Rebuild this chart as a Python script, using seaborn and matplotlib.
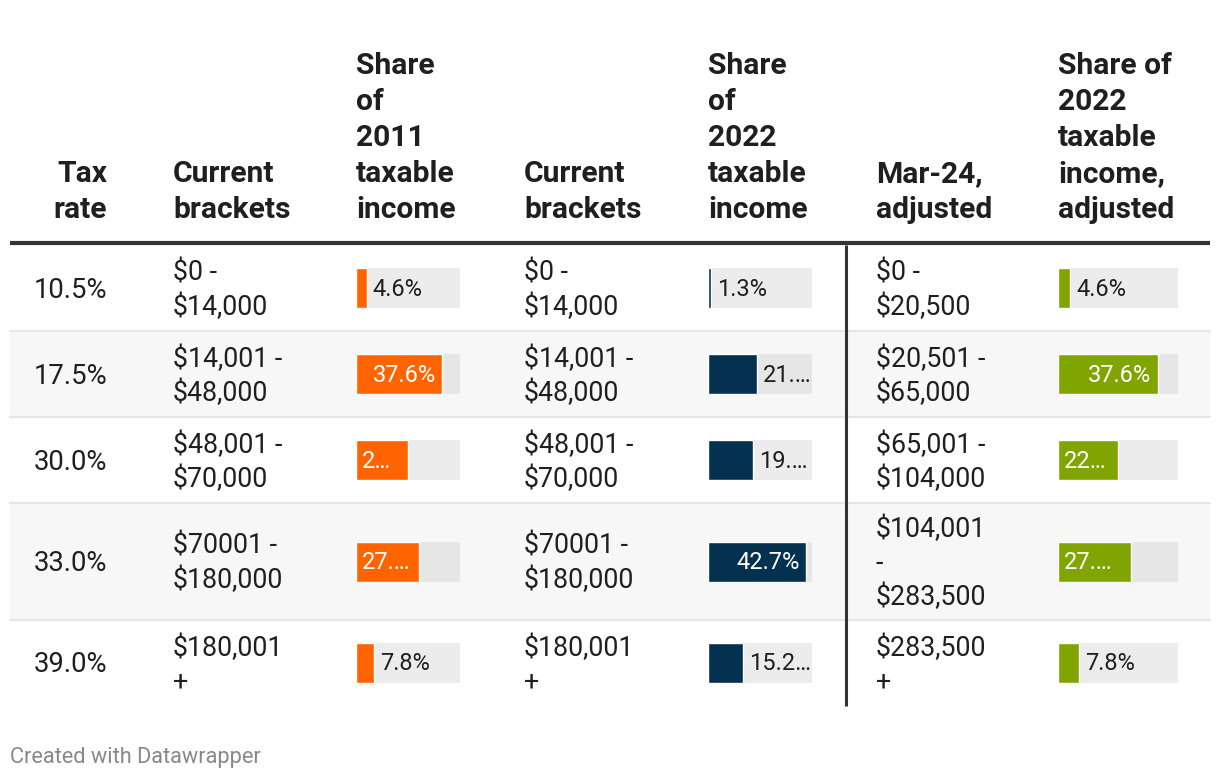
import seaborn as sns
import matplotlib.pyplot as plt

# Table data
tax_rates = ["10.5%", "17.5%", "30.0%", "33.0%", "39.0%"]
current_brackets = ["$0 -\n$14,000", "$14,001 -\n$48,000", "$48,001 -\n$70,000",
                    "$70001 -\n$180,000", "$180,001\n+"]
adjusted_brackets = ["$0 -\n$20,500", "$20,501 -\n$65,000", "$65,001 -\n$104,000",
                     "$104,001\n-\n$283,500", "$283,500\n+"]
share_2011 = [4.6, 37.6, 22.6, 27.4, 7.8]
share_2022 = [1.3, 21.3, 19.5, 42.7, 15.2]
share_2022_adj = [4.6, 37.6, 22.6, 27.4, 7.8]
# labels as they are displayed (cut off where they do not fit)
labels_2011 = ["4.6%", "37.6%", "2…", "27.…", "7.8%"]
labels_2022 = ["1.3%", "21.…", "19.…", "42.7%", "15.2…"]
labels_2022_adj = ["4.6%", "37.6%", "22…", "27.…", "7.8%"]

headers = ["Tax\nrate", "Current\nbrackets", "Share\nof\n2011\ntaxable\nincome",
           "Current\nbrackets", "Share\nof\n2022\ntaxable\nincome",
           "Mar-24,\nadjusted", "Share of\n2022\ntaxable\nincome,\nadjusted"]

sns.set_theme(style="white")
plt.rcParams["font.family"] = ["Roboto", "DejaVu Sans"]
plt.rcParams["text.parse_math"] = False

W, H = 1220, 782
fig = plt.figure(figsize=(W / 100, H / 100), dpi=100)
base = fig.add_axes([0, 0, 1, 1])
base.set_xlim(0, W)
base.set_ylim(H, 0)
base.axis("off")

TXT = "#1f1f1f"
col_x = [107, 173, 356, 524, 708, 876, 1058]
col_ha = ["right", "left", "left", "left", "left", "left", "left"]
dy = 2  # small nudge for text baseline

# header
head_lh = 36
for x, ha, h in zip(col_x, col_ha, headers):
    lines = h.split("\n")
    for i, ln in enumerate(lines):
        y = 208 + dy - (len(lines) - 1 - i) * head_lh
        base.text(x, y, ln, ha=ha, va="center", fontsize=21.6,
                  fontweight="bold", color=TXT)

base.plot([10, 1210], [243, 243], color="#333333", lw=3, solid_capstyle="butt")

# rows
body_lh = 34
n_lines = [max(a.count("\n"), b.count("\n")) + 1
           for a, b in zip(current_brackets, adjusted_brackets)]
tops = []
y = 245
for n in n_lines:
    tops.append(y)
    y += 86 + 31 * (n - 2)
tops.append(y)

bar_cols = [(356, 104, share_2011, labels_2011, "#ff6400"),
            (708, 104, share_2022, labels_2022, "#03314f"),
            (1058, 120, share_2022_adj, labels_2022_adj, "#80a500")]
vmax = 45.3

for r in range(len(tax_rates)):
    top, bot = tops[r], tops[r + 1]
    cy = (top + bot) / 2
    striped = r % 2 == 1
    if striped:
        base.fill_between([10, 1210], top, bot, color="#f7f7f7", lw=0, zorder=0)
    if r > 0:
        base.plot([10, 1210], [top, top], color="#e6e6e6", lw=1.6, zorder=1)

    base.text(col_x[0], cy + dy, tax_rates[r], ha="right", va="center",
              fontsize=19.8, color=TXT)
    for x, cell in [(col_x[1], current_brackets[r]), (col_x[3], current_brackets[r]),
                    (col_x[5], adjusted_brackets[r])]:
        lines = cell.split("\n")
        for i, ln in enumerate(lines):
            yy = cy + dy + (i - (len(lines) - 1) / 2) * body_lh
            base.text(x, yy, ln, ha="left", va="center", fontsize=19.3, color=TXT)

    for x0, w, vals, labs, color in bar_cols:
        ax = fig.add_axes([x0 / W, 1 - (cy + 20) / H, w / W, 40 / H])
        ax.set_facecolor("#e6e6e6" if striped else "#ececec")
        sns.barplot(x=[vals[r]], y=["v"], orient="h", color=color,
                    saturation=1, width=1, ax=ax)
        ax.set_xlim(0, vmax)
        ax.set_ylim(0.5, -0.5)
        ax.set_xticks([])
        ax.set_yticks([])
        ax.set_xlabel("")
        ax.set_ylabel("")
        for s in ax.spines.values():
            s.set_visible(False)
        v = vals[r]
        if v > 35:
            ax.annotate(labs[r], (v, 0), xytext=(-6, -1), textcoords="offset pixels",
                        ha="right", va="center", color="white", fontsize=17)
        elif v > 22:
            ax.annotate(labs[r], (0, 0), xytext=(6, -1), textcoords="offset pixels",
                        ha="left", va="center", color="white", fontsize=17)
        else:
            ax.annotate(labs[r], (v, 0), xytext=(6, -1), textcoords="offset pixels",
                        ha="left", va="center", color=TXT, fontsize=17)

# vertical divider
base.plot([846, 846], [245, tops[-1]], color="#333333", lw=2.2, solid_capstyle="butt")

base.text(10, 758, "Created with Datawrapper", ha="left", va="center",
          fontsize=15.7, color="#888888")

fig.savefig("out.png", dpi=100)
